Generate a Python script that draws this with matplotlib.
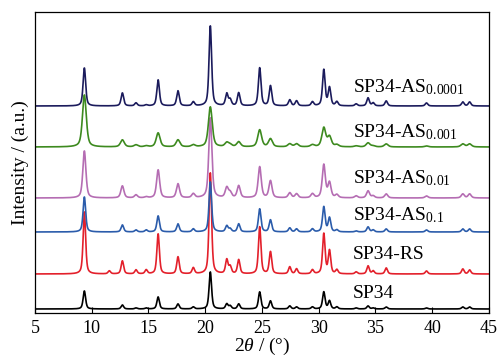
import numpy as np
import matplotlib
matplotlib.use("Agg")
import matplotlib.pyplot as plt

plt.rcParams['font.family'] = ['Liberation Serif', 'DejaVu Serif']
plt.rcParams['mathtext.fontset'] = 'custom'
plt.rcParams['mathtext.rm'] = 'Liberation Serif'
plt.rcParams['mathtext.it'] = 'Liberation Serif:italic'

# Peak positions (2theta, degrees)
peak_pos = [9.35, 11.55, 12.7, 13.9, 14.8, 15.85, 17.6, 18.95, 20.45, 21.9, 22.2, 22.95,
            24.8, 25.75, 27.45, 28.05, 29.45, 30.45, 30.95, 31.6, 33.3, 34.35, 34.8,
            35.95, 39.5, 42.7, 43.3]

series_names = ["SP34", "SP34-RS", "SP34-AS$_{0.1}$", "SP34-AS$_{0.01}$",
                "SP34-AS$_{0.001}$", "SP34-AS$_{0.0001}$"]
series_colors = ["#000000", "#e3202b", "#2b5cab", "#b56db3", "#3d8a1f", "#1b1b5c"]
offsets = [4, 39, 81, 115, 166, 207]
fwhm = [0.26, 0.26, 0.27, 0.32, 0.40, 0.27]
label_y = [15, 54, 93, 130, 176, 221]

heights_sp34 = [18, 0, 4, 1, 1, 12, 5, 2, 37, 5, 3, 5, 17, 8, 3, 2, 2, 17, 8, 2, 1, 3, 1, 2, 1, 2, 2]
heights_rs = [62, 3, 13, 4, 4, 40, 17, 6, 101, 14, 7, 14, 47, 22, 7, 5, 4, 40, 23, 4, 2, 8, 3, 6, 3, 5, 4]
heights_as01 = [35, 0, 7, 2, 2, 16, 8, 3, 50, 6, 3, 8, 23, 12, 4, 3, 3, 25, 14, 2, 1, 5, 2, 3, 2, 3, 3]
heights_as001 = [47, 0, 12, 3, 1, 28, 14, 4, 80, 10, 5, 12, 31, 17, 5, 4, 4, 33, 15, 3, 2, 7, 2, 4, 2, 4, 4]
heights_as0001 = [52, 0, 7, 2, 1, 14, 7, 2, 40, 4, 2, 5, 17, 8, 3, 3, 2, 19, 10, 2, 1, 4, 1, 3, 1, 3, 3]
heights_as00001 = [38, 0, 13, 3, 1, 26, 15, 4, 80, 12, 6, 13, 38, 20, 6, 5, 4, 36, 18, 4, 2, 8, 3, 5, 3, 4, 4]
all_heights = [heights_sp34, heights_rs, heights_as01, heights_as001, heights_as0001, heights_as00001]

x_ticks = [5, 10, 15, 20, 25, 30, 35, 40, 45]

two_theta = np.linspace(5, 45, 4000)

def profile(h_list, w):
    y = np.zeros_like(two_theta)
    for p, h in zip(peak_pos, h_list):
        lor = 1.0 / (1.0 + ((two_theta - p) / (w / 2)) ** 2)
        gau = np.exp(-4 * np.log(2) * ((two_theta - p) / w) ** 2)
        y += h * (0.55 * lor + 0.45 * gau)
    return y

fig = plt.figure(figsize=(5.03, 3.62), dpi=100)
ax = fig.add_axes([0.0696, 0.1354, 0.9024, 0.8315])

for name, col, off, w, hs, ly in zip(series_names, series_colors, offsets, fwhm, all_heights, label_y):
    ax.plot(two_theta, profile(hs, w) + off, color=col, lw=1.2)
    ax.text(33.0, ly, name, fontsize=14, color='black', va='baseline', ha='left')

ax.set_xlim(5, 45)
ax.set_ylim(0, 301)
ax.set_xticks(x_ticks)
ax.set_yticks([])
ax.tick_params(axis='x', direction='in', length=4, width=0.8, labelsize=13, pad=5)
for s in ax.spines.values():
    s.set_linewidth(0.9)
ax.set_xlabel(r"2$\it{\theta}$ / (°)", fontsize=14, labelpad=-1)
ax.set_ylabel("Intensity / (a.u.)", fontsize=14, labelpad=4)

fig.savefig("out.png", dpi=100)
